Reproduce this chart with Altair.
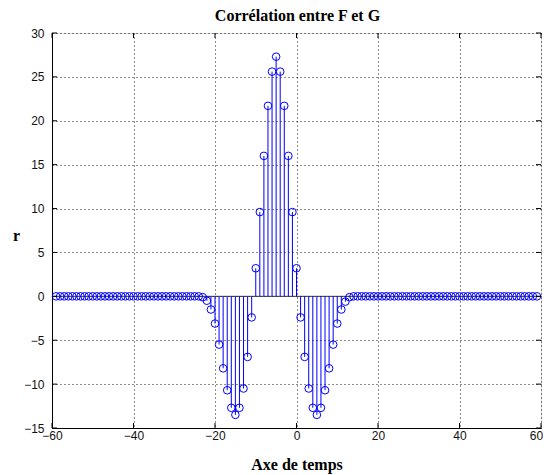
import altair as alt
import pandas as pd

# lag values (time axis) and correlation values
lags = list(range(-59, 60))
r_values = [
    0, 0, 0, 0, 0, 0, 0, 0, 0, 0, 0, 0, 0, 0, 0, 0, 0, 0,
    0, 0, 0, 0, 0, 0, 0, 0, 0, 0, 0, 0, 0, 0, 0, 0, 0, 0,
    -0.1, -0.5, -1.5, -3.1, -5.5, -8.2, -10.7, -12.7, -13.5, -12.7, -10.5, -6.9, -2.4,
    3.2, 9.6, 16.0, 21.7, 25.6, 27.3, 25.6, 21.7, 16.0, 9.6, 3.2,
    -2.4, -6.9, -10.5, -12.7, -13.5, -12.7, -10.7, -8.2, -5.5, -3.1, -1.5, -0.6, -0.1,
    0, 0, 0, 0, 0, 0, 0, 0, 0, 0, 0, 0, 0, 0, 0, 0, 0, 0, 0, 0, 0, 0, 0,
    0, 0, 0, 0, 0, 0, 0, 0, 0, 0, 0, 0, 0, 0, 0, 0, 0, 0, 0, 0, 0, 0, 0,
]
x_ticks = [-60, -40, -20, 0, 20, 40, 60]
y_ticks = [-15, -10, -5, 0, 5, 10, 15, 20, 25, 30]
title_text = ["Corrélation entre F et G"]

W, H = 489, 395
BLUE = "#0000ff"

df = pd.DataFrame({"t": lags, "r": r_values, "zero": [0] * len(lags)})
df_base = pd.DataFrame({"r": [0]})
df_xt = pd.DataFrame({"t": x_ticks})
df_yt = pd.DataFrame({"r": y_ticks})
df_title = pd.DataFrame({"label": title_text})

xs = alt.Scale(domain=[-60, 60], nice=False, zero=False)
ys = alt.Scale(domain=[-15, 30], nice=False, zero=False)

label_font = "Liberation Sans"
xaxis = alt.Axis(
    values=x_ticks, grid=True, gridDash=[1, 3], gridColor="#000", gridOpacity=0.9,
    ticks=False, labelPadding=2, labelFont=label_font, labelFontSize=12, labelColor="#111",
    domainColor="#000", title="Axe de temps", titleFont="Liberation Serif",
    titleFontSize=16, titleFontWeight="bold", titleColor="#000",
    titleBaseline="alphabetic", titleY=41, labelFlush=False,
    labelOffset={"expr": "datum.value == 60 ? -5 : 0"},
)
yaxis = alt.Axis(
    values=y_ticks, grid=True, gridDash=[1, 3], gridColor="#000", gridOpacity=0.9,
    ticks=False, labelPadding=8, labelFont=label_font, labelFontSize=12, labelColor="#111",
    domainColor="#000", title="r", titleFont="Liberation Serif", titleFontSize=16,
    titleFontWeight="bold", titleColor="#000", titleAngle=0, titleAlign="center",
    titleBaseline="alphabetic", titleX=-36, titleY=207, labelFlush=False,
)

X = alt.X("t:Q", scale=xs, axis=xaxis)
Y = alt.Y("r:Q", scale=ys, axis=yaxis)

baseline = alt.Chart(df_base).mark_rule(color="#333", strokeWidth=1).encode(y=Y)

stems = alt.Chart(df).mark_rule(color=BLUE, strokeWidth=1).encode(
    x=X, y=Y, y2=alt.Y2("zero:Q")
)

markers = alt.Chart(df).mark_point(
    shape="circle", filled=False, color=BLUE, size=58, strokeWidth=1, opacity=1
).encode(x=X, y=Y)

xt_bottom = alt.Chart(df_xt).mark_rule(color="#000").encode(
    x=X, y=alt.value(H), y2=alt.value(H - 5)
)
xt_top = alt.Chart(df_xt).mark_rule(color="#000").encode(
    x=X, y=alt.value(0), y2=alt.value(5)
)
yt_left = alt.Chart(df_yt).mark_rule(color="#000").encode(
    y=Y, x=alt.value(0), x2=alt.value(5)
)
yt_right = alt.Chart(df_yt).mark_rule(color="#000").encode(
    y=Y, x=alt.value(W), x2=alt.value(W - 5)
)

title = alt.Chart(df_title).mark_text(
    font="Liberation Serif", fontSize=16, fontWeight="bold", color="#000",
    align="center", baseline="alphabetic",
).encode(text="label:N", x=alt.value(W / 2 + 1), y=alt.value(-12))

chart = alt.layer(
    baseline, stems, markers, xt_bottom, xt_top, yt_left, yt_right, title
).properties(
    width=W,
    height=H,
    autosize=alt.AutoSizeParams(type="none"),
    padding={"left": 44, "top": 25, "right": 2, "bottom": 47},
).configure_view(stroke="#000", strokeWidth=1, clip=False).configure(background="white")

chart.save("out.html", embed_options={"renderer": "svg", "actions": False})
